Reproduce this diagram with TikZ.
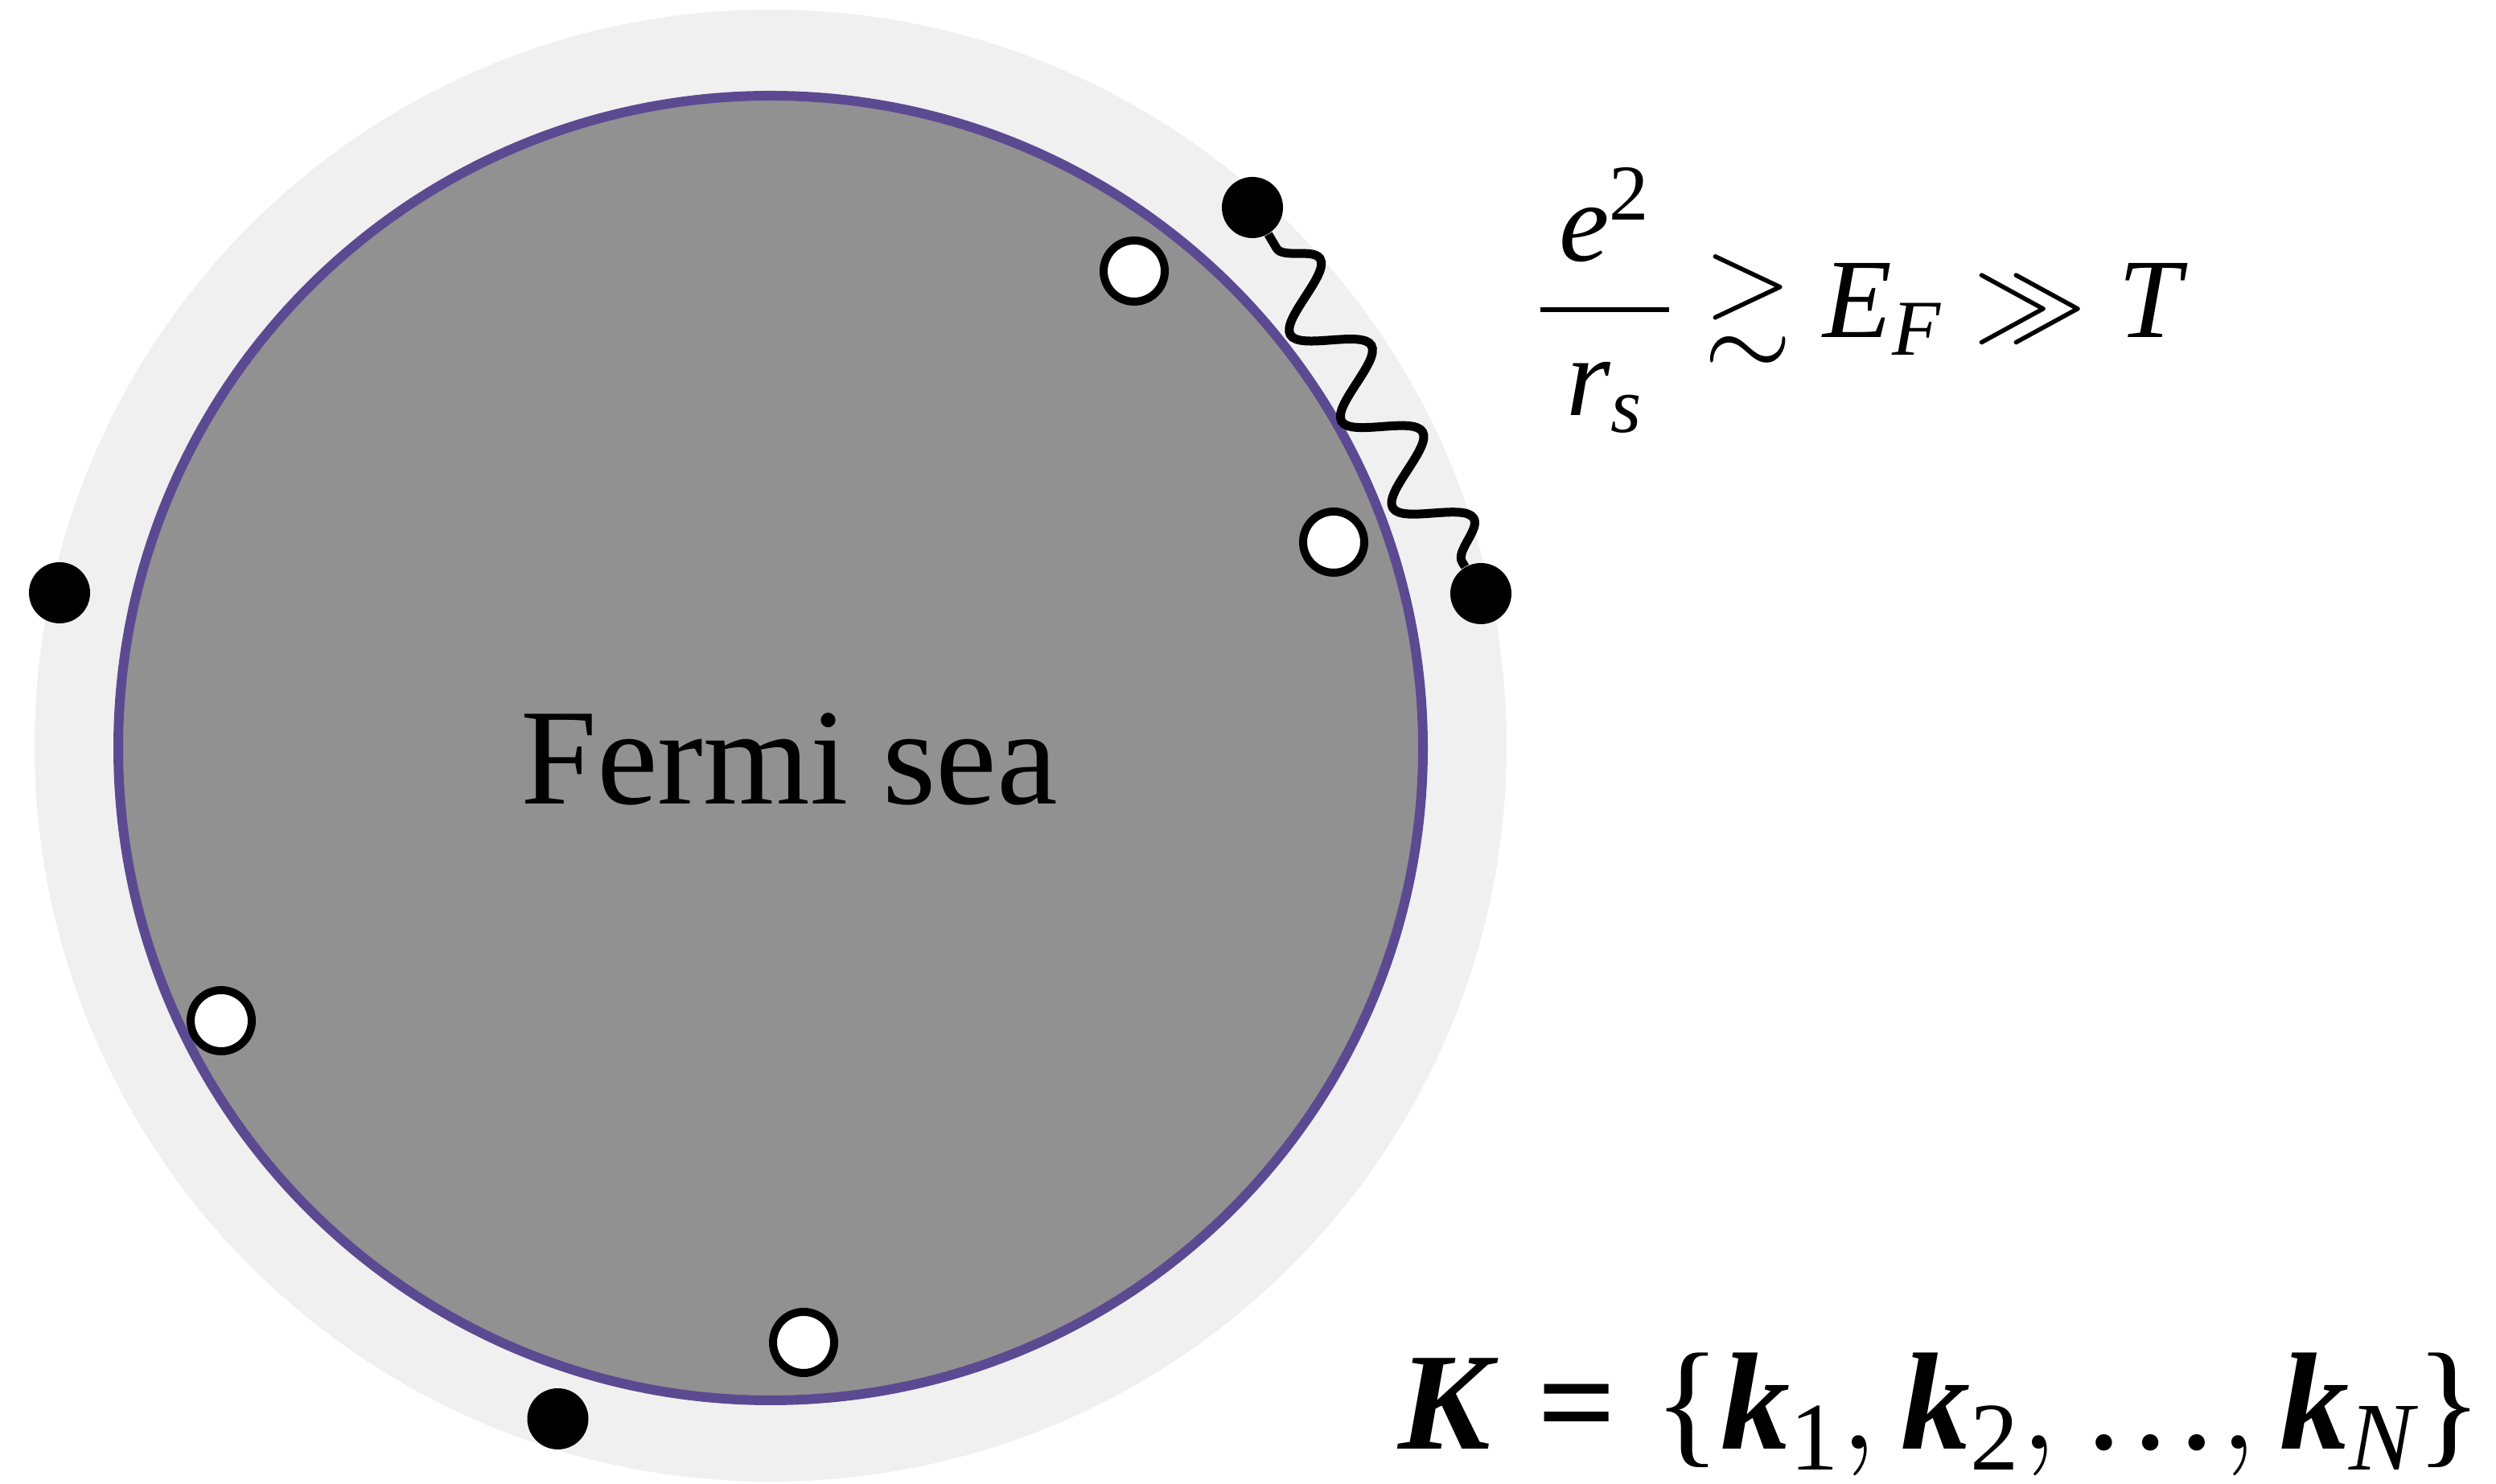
\RequirePackage{fix-cm}
\documentclass[tikz,border=0pt]{standalone}
\usepackage{amsmath,amssymb,bm}
\usepackage{fontspec}
\setmainfont{Liberation Serif}
\usetikzlibrary{decorations.pathmorphing}
\definecolor{shell}{HTML}{F0F0F0}
\definecolor{sea}{HTML}{919191}
\definecolor{rim}{HTML}{5B4A92}
\newcommand\mi[1]{\textit{#1}}
\newcommand\mb[1]{\textbf{\textit{#1}}}

\begin{document}
\begin{tikzpicture}[elec/.style={circle,fill=black,minimum size=7.6mm,inner sep=0pt},hole/.style={circle,draw=black,line width=1mm,fill=white,minimum size=7.6mm,inner sep=0pt},wave/.style={line width=1.1mm,decorate,decoration={snake,segment length=12.5mm,amplitude=4mm,pre length=2mm}},txt/.style={inner sep=0pt}]
\useasboundingbox (0,0) rectangle (31.03,18.45);
\fill[shell] (9.58,9.18) circle (9.15);
\filldraw[fill=sea,draw=rim,line width=1.2mm] (9.58,9.15) circle (8.11);
\node[txt,font=\fontsize{48.5}{58}\selectfont,anchor=base] (fs) at (9.81,8.45) {Fermi sea};
\node[elec] (eleft) at (0.74,11.08) {};
\node[elec] (etop) at (15.57,15.87) {};
\node[elec] (eright) at (18.41,11.07) {};
\node[elec] (ebot) at (6.935,0.81) {};
\node[hole] (htop) at (14.10,15.08) {};
\node[hole] (hright) at (16.58,11.71) {};
\node[hole] (hleft) at (2.75,5.76) {};
\node[hole] (hbot) at (9.99,1.76) {};
\draw[wave] (etop) -- (eright);
\node[txt,font=\fontsize{40}{48}\selectfont,anchor=base west] (cond) at (19.10,14.25) {$\displaystyle\frac{\mkern3mu\mi{e}^{\textup{2}}\mkern3mu}{\mi{r}_{\mi{s}}}\gtrsim \mi{E}_{\mi{F}}\gg \mi{T}$};
\node[txt,font=\fontsize{49}{59}\selectfont,anchor=base west] (kset) at (17.38,0.43) {$\mb{K}\mathrel{\textbf{=}}\textup{\{}\mb{k}_{\textup{1}},\mb{k}_{\textup{2}},\textup{…},\mb{k}_{\mi{N}}\textup{\}}$};
\end{tikzpicture}
\end{document}
